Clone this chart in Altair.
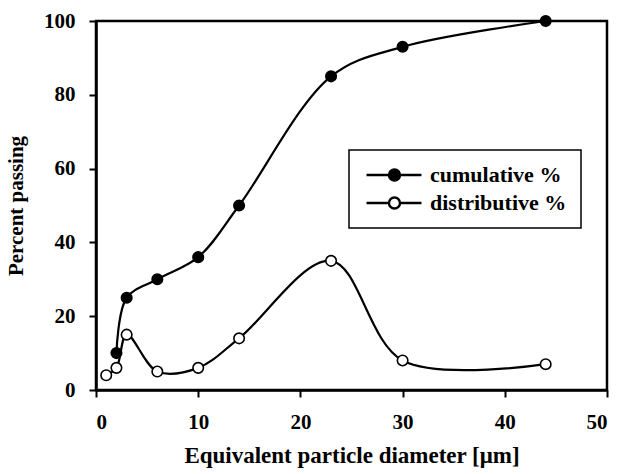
import altair as alt
import pandas as pd

cum_x = [2, 3, 6, 10, 14, 23, 30, 44]
cum_y = [10, 25, 30, 36, 50, 85, 93, 100]
dist_x = [1, 2, 3, 6, 10, 14, 23, 30, 44]
dist_y = [4, 6, 15, 5, 6, 14, 35, 8, 7]
series = ["cumulative %", "distributive %"]
x_ticks = [0, 10, 20, 30, 40, 50]
y_ticks = [0, 20, 40, 60, 80, 100]

df = pd.concat([
    pd.DataFrame({"d": cum_x, "p": cum_y, "s": series[0], "o": range(len(cum_x))}),
    pd.DataFrame({"d": dist_x, "p": dist_y, "s": series[1], "o": range(len(dist_x))}),
])

FONT = "Liberation Serif"
legend_path = ("M-1.15,0L2.3,0M4,0L7.3,0"
               "M4,0A0.85,0.85,0,1,1,2.3,0A0.85,0.85,0,1,1,4,0Z")

x = alt.X("d:Q", scale=alt.Scale(domain=[0, 50], nice=False),
          axis=alt.Axis(values=x_ticks, title="Equivalent particle diameter [μm]",
                        titlePadding=12, labelPadding=14))
y = alt.Y("p:Q", scale=alt.Scale(domain=[0, 100], nice=False),
          axis=alt.Axis(values=y_ticks, title="Percent passing", titlePadding=17, labelPadding=14))

lines = alt.Chart(df).mark_line(interpolate="catmull-rom", color="black", strokeWidth=2.2).encode(
    x=x, y=y, detail="s:N", order="o:Q")

points = alt.Chart(df).mark_point(filled=False, shape="circle", size=110, stroke="black",
                                  strokeWidth=1.6, opacity=1).encode(
    x=x, y=y,
    fill=alt.Fill("s:N", scale=alt.Scale(domain=series, range=["black", "white"]),
                  legend=alt.Legend(title=None, orient="none", legendX=253, legendY=129,
                                    symbolType=legend_path, symbolSize=169,
                                    symbolStrokeColor="black", symbolStrokeWidth=2.4,
                                    labelFont=FONT, labelFontSize=22, labelFontWeight="bold",
                                    labelColor="black", labelOffset=45,
                                    strokeColor="black", fillColor="white",
                                    padding=14, rowPadding=6)),
)

chart = (lines + points).properties(
    width=511, height=369,
    padding={"left": 96, "top": 21, "right": 15, "bottom": 84},
    autosize=alt.AutoSizeParams(type="none"),
).configure_view(stroke="black", strokeWidth=2.5).configure_axis(
    grid=False, domainColor="black", domainWidth=2.5, tickColor="black", tickWidth=2,
    tickSize=7, labelFont=FONT, labelFontSize=21, labelFontWeight="bold", labelColor="black",
    titleFont=FONT, titleFontWeight="bold", titleColor="black",
).configure_axisX(titleFontSize=23).configure_axisY(titleFontSize=21).configure_legend(strokeWidth=1.5)

chart.save("out.html", embed_options={"renderer": "svg", "actions": False})
